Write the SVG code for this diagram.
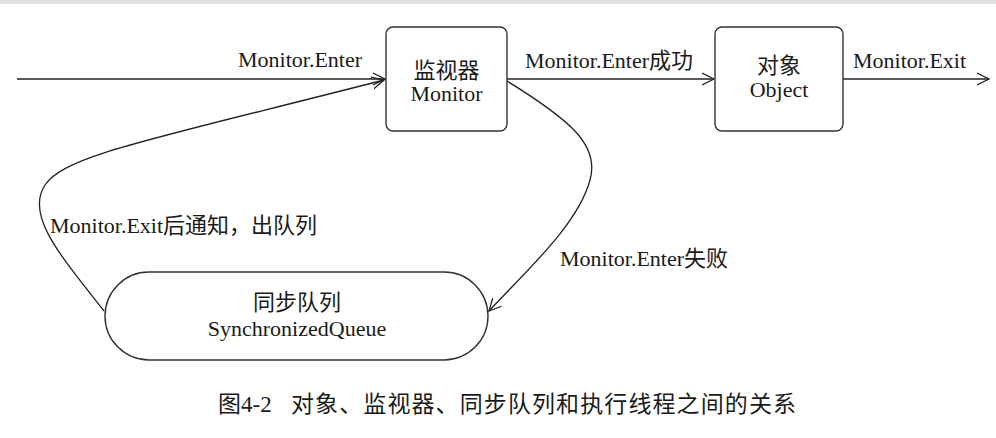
<svg xmlns="http://www.w3.org/2000/svg" width="996" height="438" viewBox="0 0 996 438">
<defs>
<style>
.t{font-family:"Liberation Serif","Noto Sans CJK SC",serif;font-size:22px;fill:#1a1a1a}
.c{text-anchor:middle}
.box{fill:#fff;stroke:#333;stroke-width:1.4}
.ln{fill:none;stroke:#222;stroke-width:1.3}
</style>
<marker id="ah" markerUnits="userSpaceOnUse" markerWidth="14" markerHeight="14" refX="12" refY="6" orient="auto" viewBox="0 0 14 12">
<path d="M0,0 L12,6 L0,12" fill="none" stroke="#222" stroke-width="1.3"/>
</marker>
</defs>
<rect width="996" height="438" fill="#fff"/>
<rect width="996" height="4" fill="#e2e2e2"/>
<g id="connectors">
<path class="ln" d="M17 79 H385" marker-end="url(#ah)"/>
<path class="ln" d="M507 79 H714" marker-end="url(#ah)"/>
<path class="ln" d="M843 79 H989" marker-end="url(#ah)"/>
<path class="ln" d="M104 311 C60 255 25 215 45 185 C65 155 150 140 384 80" marker-end="url(#ah)"/>
<path class="ln" d="M507 81 C570 120 600 145 590 180 C578 225 525 272 489 311" marker-end="url(#ah)"/>
<text class="t" x="238" y="67">Monitor.Enter</text>
<text class="t" x="525" y="68">Monitor.Enter成功</text>
<text class="t" x="853" y="68">Monitor.Exit</text>
<text class="t" x="50" y="233">Monitor.Exit后通知，出队列</text>
<text class="t" x="560" y="266">Monitor.Enter失败</text>
</g>
<g id="monitor">
<rect class="box" x="386" y="27" width="121" height="104" rx="7"/>
<text class="t c" x="446.5" y="78">监视器</text>
<text class="t c" x="446.5" y="101">Monitor</text>
</g>
<g id="object">
<rect class="box" x="715" y="27" width="128" height="104" rx="7"/>
<text class="t c" x="779" y="73">对象</text>
<text class="t c" x="779" y="97">Object</text>
</g>
<g id="queue">
<rect class="box" x="105" y="272" width="383" height="88" rx="44"/>
<text class="t c" x="297" y="310">同步队列</text>
<text class="t c" x="297" y="336">SynchronizedQueue</text>
</g>
<g id="caption">
<text class="t" x="218" y="412" style="font-size:23px">图4-2</text>
<text class="t" x="291" y="412" style="font-size:23px" textLength="505" lengthAdjust="spacing">对象、监视器、同步队列和执行线程之间的关系</text>
</g>
</svg>
